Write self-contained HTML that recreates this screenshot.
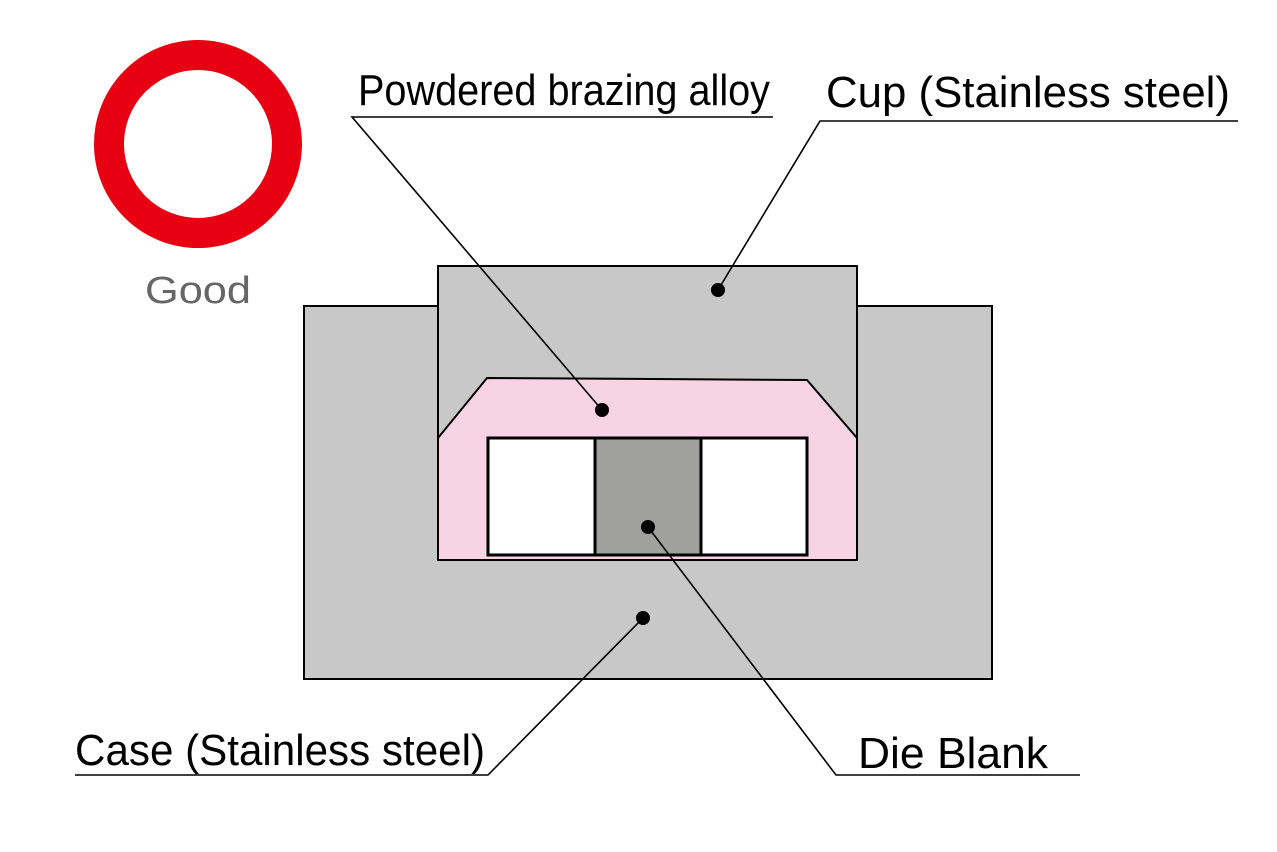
<!DOCTYPE html>
<html><head><meta charset="utf-8"><style>html,body{margin:0;padding:0;background:#fff}svg{display:block}</style></head>
<body>
<svg width="1277" height="852" viewBox="0 0 1277 852" xmlns="http://www.w3.org/2000/svg" font-family="Liberation Sans, sans-serif">
<circle cx="198" cy="144" r="89" fill="none" stroke="#e60012" stroke-width="30"/>
<text x="198" y="303" font-size="38" fill="#666" text-anchor="middle" textLength="106" lengthAdjust="spacingAndGlyphs">Good</text>
<rect x="304" y="306" width="688" height="373" fill="#c8c8c8" stroke="#000" stroke-width="2"/>
<rect x="438" y="266" width="419" height="294" fill="#c8c8c8" stroke="#000" stroke-width="2"/>
<polygon points="438,438 487,378 807,380 857,438 857,560 438,560" fill="#f7d3e3" stroke="#000" stroke-width="2"/>
<rect x="488" y="438" width="107" height="117" fill="#fff"/>
<rect x="595" y="438" width="106" height="117" fill="#a0a09f"/>
<rect x="701" y="438" width="106" height="117" fill="#fff"/>
<rect x="488" y="438" width="319" height="117" fill="none" stroke="#000" stroke-width="3"/>
<line x1="595" y1="438" x2="595" y2="555" stroke="#000" stroke-width="3"/>
<line x1="701" y1="438" x2="701" y2="555" stroke="#000" stroke-width="3"/>
<g stroke="#000" stroke-width="1.6" fill="none">
<polyline points="773,117 352,117 602,410"/>
<polyline points="1238,121 820,121 718,290"/>
<polyline points="75,775 488,775 643,618"/>
<polyline points="1080,775 836,775 648,527"/>
</g>
<g fill="#000">
<circle cx="718" cy="290" r="7"/><circle cx="602" cy="410" r="7"/>
<circle cx="648" cy="527" r="7"/><circle cx="643" cy="618" r="7"/>
</g>
<g font-size="44" fill="#000">
<text x="358" y="105" textLength="412" lengthAdjust="spacingAndGlyphs">Powdered brazing alloy</text>
<text x="826" y="107" textLength="404" lengthAdjust="spacingAndGlyphs">Cup (Stainless steel)</text>
<text x="75" y="765" textLength="410" lengthAdjust="spacingAndGlyphs">Case (Stainless steel)</text>
<text x="858" y="768" textLength="190" lengthAdjust="spacingAndGlyphs">Die Blank</text>
</g>
</svg>
</body></html>
